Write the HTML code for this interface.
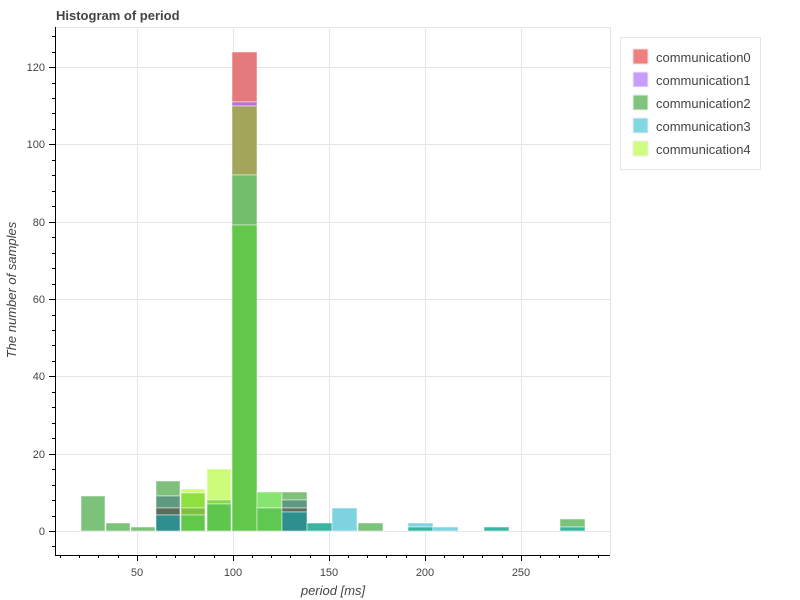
<!DOCTYPE html>
<html><head><meta charset="utf-8"><style>
body{margin:0;background:#fff;}
svg{display:block;font-family:"Liberation Sans",sans-serif;}
</style></head><body>
<svg width="800" height="600" viewBox="0 0 800 600" xmlns="http://www.w3.org/2000/svg">
<rect width="800" height="600" fill="#fff"/>
<text x="56" y="20" font-size="13" font-weight="bold" fill="#444">Histogram of period</text>
<!-- grid -->
<g stroke="#e5e5e5" stroke-width="1">
<line x1="56" y1="27.5" x2="610" y2="27.5"/>
<line x1="610.5" y1="27" x2="610.5" y2="555"/>
<line x1="137.5" y1="27" x2="137.5" y2="555"/>
<line x1="233.5" y1="27" x2="233.5" y2="555"/>
<line x1="329.5" y1="27" x2="329.5" y2="555"/>
<line x1="425.5" y1="27" x2="425.5" y2="555"/>
<line x1="521.5" y1="27" x2="521.5" y2="555"/>
<line x1="56" y1="531.5" x2="610" y2="531.5"/>
<line x1="56" y1="454.5" x2="610" y2="454.5"/>
<line x1="56" y1="376.5" x2="610" y2="376.5"/>
<line x1="56" y1="299.5" x2="610" y2="299.5"/>
<line x1="56" y1="222.5" x2="610" y2="222.5"/>
<line x1="56" y1="144.5" x2="610" y2="144.5"/>
<line x1="56" y1="67.5" x2="610" y2="67.5"/>
</g>
<!-- bars -->
<g stroke="#ffffff" stroke-opacity="0.5" stroke-width="1">
<rect x="81" y="496" width="24" height="35" fill="#7dc27a"/>
<rect x="106" y="523" width="24" height="8" fill="#7dc27a"/>
<rect x="131" y="527" width="24" height="4" fill="#7dc27a"/>
<rect x="156" y="481" width="24" height="15" fill="#7fc07d"/>
<rect x="156" y="496" width="24" height="12" fill="#5e9a80"/>
<rect x="156" y="508" width="24" height="7" fill="#5c6b5c"/>
<rect x="156" y="515" width="24" height="16" fill="#2e8f8f"/>
<rect x="181" y="489" width="24" height="4" fill="#d0fc7c"/>
<rect x="181" y="493" width="24" height="15" fill="#8de040"/>
<rect x="181" y="508" width="24" height="7" fill="#7fc040"/>
<rect x="181" y="515" width="24" height="16" fill="#62c84b"/>
<rect x="207" y="469" width="24" height="31" fill="#ccfd7a"/>
<rect x="207" y="500" width="24" height="4" fill="#85d84a"/>
<rect x="207" y="504" width="24" height="27" fill="#5ec54d"/>
<rect x="232" y="52" width="25" height="50" fill="#e57a7c"/>
<rect x="232" y="102" width="25" height="4" fill="#b86fd6"/>
<rect x="232" y="106" width="25" height="69" fill="#a3a55a"/>
<rect x="232" y="175" width="25" height="50" fill="#73be6b"/>
<rect x="232" y="225" width="25" height="306" fill="#63c74b"/>
<rect x="257" y="492" width="25" height="16" fill="#88e470"/>
<rect x="257" y="508" width="25" height="23" fill="#5fc850"/>
<rect x="282" y="492" width="25" height="8" fill="#7fc07b"/>
<rect x="282" y="500" width="25" height="8" fill="#5f9980"/>
<rect x="282" y="508" width="25" height="4" fill="#5e6f5e"/>
<rect x="282" y="512" width="25" height="19" fill="#2e8f8f"/>
<rect x="307" y="523" width="25" height="8" fill="#3ab5a0"/>
<rect x="332" y="508" width="25" height="23" fill="#7dd4e0"/>
<rect x="358" y="523" width="25" height="8" fill="#7dc27a"/>
<rect x="408" y="523" width="25" height="4" fill="#7dd4e0"/>
<rect x="408" y="527" width="25" height="4" fill="#3ab5a0"/>
<rect x="433" y="527" width="25" height="4" fill="#7dd4e0"/>
<rect x="484" y="527" width="25" height="4" fill="#3ab5a0"/>
<rect x="560" y="519" width="25" height="8" fill="#7dc27a"/>
<rect x="560" y="527" width="25" height="4" fill="#3ab5a0"/>
</g>
<!-- axes -->
<g stroke="#000" stroke-width="1" fill="none">
<line x1="55.5" y1="27" x2="55.5" y2="555.5"/>
<line x1="55" y1="555.5" x2="610" y2="555.5"/>
<path d="M137.5 555V561M233.5 555V561M329.5 555V561M425.5 555V561M521.5 555V561"/>
<path d="M49 531.5H55M49 454.5H55M49 376.5H55M49 299.5H55M49 222.5H55M49 144.5H55M49 67.5H55"/>
<path d="M60.5 555V558M79.5 555V558M98.5 555V558M118.5 555V558M156.5 555V558M175.5 555V558M194.5 555V558M214.5 555V558M252.5 555V558M271.5 555V558M290.5 555V558M310.5 555V558M348.5 555V558M367.5 555V558M386.5 555V558M406.5 555V558M444.5 555V558M463.5 555V558M482.5 555V558M502.5 555V558M540.5 555V558M559.5 555V558M578.5 555V558M598.5 555V558"/>
<path d="M52 546.5H55M52 516.5H55M52 500.5H55M52 485.5H55M52 469.5H55M52 438.5H55M52 423.5H55M52 407.5H55M52 392.5H55M52 361.5H55M52 345.5H55M52 330.5H55M52 315.5H55M52 284.5H55M52 268.5H55M52 253.5H55M52 237.5H55M52 206.5H55M52 191.5H55M52 175.5H55M52 160.5H55M52 129.5H55M52 113.5H55M52 98.5H55M52 83.5H55M52 52.5H55M52 36.5H55"/>
</g>
<g font-size="11" fill="#444" text-anchor="middle">
<text x="137" y="576">50</text><text x="233" y="576">100</text><text x="329" y="576">150</text><text x="425" y="576">200</text><text x="521" y="576">250</text>
</g>
<g font-size="11" fill="#444" text-anchor="end">
<text x="45" y="535">0</text><text x="45" y="458">20</text><text x="45" y="380">40</text><text x="45" y="303">60</text><text x="45" y="226">80</text><text x="45" y="148">100</text><text x="45" y="71">120</text>
</g>
<text x="333" y="595" font-size="13" font-style="italic" fill="#444" text-anchor="middle">period [ms]</text>
<text transform="translate(16,290) rotate(-90)" font-size="13" font-style="italic" fill="#444" text-anchor="middle">The number of samples</text>
<rect x="620.5" y="37.5" width="140" height="132" fill="#fff" stroke="#e5e5e5"/>
<g font-size="13" fill="#444">
<rect x="633" y="49" width="15" height="15" fill="#ef8080" stroke="#fdd"/><text x="656" y="62">communication0</text>
<rect x="633" y="72" width="15" height="15" fill="#c79cfc" stroke="#eee"/><text x="656" y="85">communication1</text>
<rect x="633" y="95" width="15" height="15" fill="#80c47e" stroke="#eee"/><text x="656" y="108">communication2</text>
<rect x="633" y="118" width="15" height="15" fill="#80d8e2" stroke="#eee"/><text x="656" y="131">communication3</text>
<rect x="633" y="141" width="15" height="15" fill="#d0fd80" stroke="#eee"/><text x="656" y="154">communication4</text>
</g>
</svg>
</body></html>
